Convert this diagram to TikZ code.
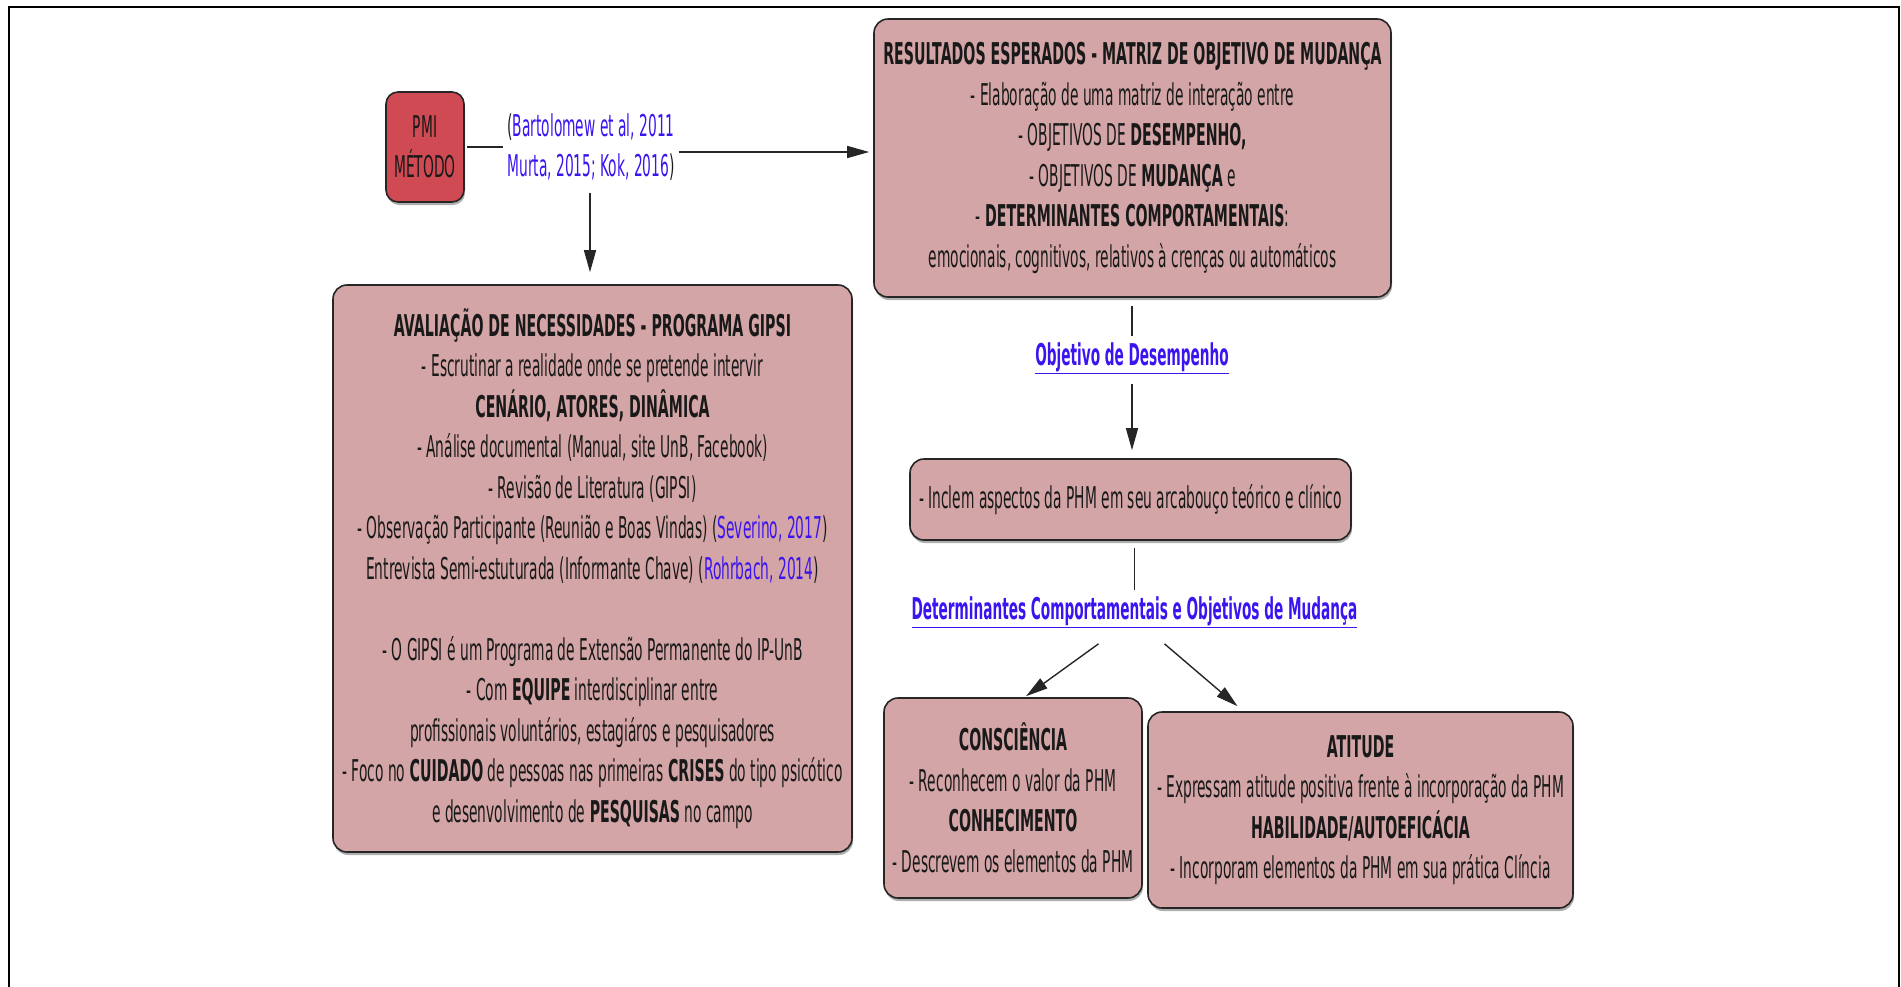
\documentclass[tikz,border=0pt]{standalone}
\usepackage{fontspec}
\setmainfont{DejaVu Sans}[FakeStretch=0.46, BoldFeatures={FakeStretch=0.472}]
\newfontfamily\linkfont{DejaVu Sans}[FakeStretch=0.455, BoldFeatures={FakeStretch=0.455}]
\usetikzlibrary{arrows.meta,shadows}
\definecolor{pinkfill}{RGB}{212,165,166}
\definecolor{pmired}{RGB}{207,74,82}
\definecolor{cblue}{RGB}{60,20,240}
\definecolor{txt}{RGB}{25,25,25}
\tikzset{
  every node/.style={font=\fontsize{30pt}{40.5pt}\selectfont, text=txt, inner sep=0pt},
  box/.style={draw=black!85, line width=1.6pt, fill=pinkfill, rounded corners=14pt, align=center,
    drop shadow={shadow xshift=1pt, shadow yshift=-3pt, opacity=0.45, fill=black!70}},
  link/.style={text=cblue, font=\fontsize{30pt}{40.5pt}\selectfont\linkfont\bfseries},
  conn/.style={line width=1.4pt, draw=black!85},
  arr/.style={conn, -{Triangle[length=22pt,width=12pt]}}
}
\begin{document}
\begin{tikzpicture}[x=1pt,y=-1pt]
\useasboundingbox (0,0) rectangle (1901,986);
\draw[line width=2pt] (9,990) -- (9,7) -- (1899,7) -- (1899,990);

\node[box, fill=pmired, rounded corners=12pt, minimum width=78pt, minimum height=110pt] (pmi) at (425,147) {PMI\\MÉTODO};
\node[align=center] (cite) at (591,147) {(\textcolor{cblue}{Bartolomew et al, 2011}\\\textcolor{cblue}{Murta, 2015; Kok, 2016})};

\node[box, minimum width=517pt, minimum height=278pt] (res) at (1132.5,158) {\textbf{RESULTADOS ESPERADOS - MATRIZ DE OBJETIVO DE MUDANÇA}\\
- Elaboração de uma matriz de interação entre\\
- OBJETIVOS DE \textbf{DESEMPENHO,}\\
- OBJETIVOS DE \textbf{MUDANÇA} e\\
- \textbf{DETERMINANTES COMPORTAMENTAIS}:\\
emocionais, cognitivos, relativos à crenças ou automáticos};

\node[box, minimum width=519pt, minimum height=567pt] (avl) at (592.5,568.5) {\textbf{AVALIAÇÃO DE NECESSIDADES - PROGRAMA GIPSI}\\
- Escrutinar a realidade onde se pretende intervir\\
\textbf{CENÁRIO, ATORES, DINÂMICA}\\
- Análise documental (Manual, site UnB, Facebook)\\
- Revisão de Literatura (GIPSI)\\
- Observação Participante (Reunião e Boas Vindas) (\textcolor{cblue}{Severino, 2017})\\
Entrevista Semi-estuturada (Informante Chave) (\textcolor{cblue}{Rohrbach, 2014})\\[40.5pt]
- O GIPSI é um Programa de Extensão Permanente do IP-UnB\\
- Com \textbf{EQUIPE} interdisciplinar entre\\
profissionais voluntários, estagiáros e pesquisadores\\
- Foco no \textbf{CUIDADO} de pessoas nas primeiras \textbf{CRISES} do tipo psicótico\\
e desenvolvimento de \textbf{PESQUISAS} no campo};

\node[link] (od) at (1132,358) {\underline{Objetivo de Desempenho}};

\node[box, minimum width=441pt, minimum height=81pt] (inc) at (1130.5,499.5) {- Inclem aspectos da PHM em seu arcabouço teórico e clínico};

\node[link] (det) at (1134.5,612) {\underline{Determinantes Comportamentais e Objetivos de Mudança}};

\node[box, minimum width=258pt, minimum height=200pt] (con) at (1013,798) {\textbf{CONSCIÊNCIA}\\
- Reconhecem o valor da PHM\\
\textbf{CONHECIMENTO}\\
- Descrevem os elementos da PHM};

\node[box, minimum width=425pt, minimum height=196pt] (att) at (1360.5,810) {\textbf{ATITUDE}\\
- Expressam atitude positiva frente à incorporação da PHM\\
\textbf{HABILIDADE/AUTOEFICÁCIA}\\
- Incorporam elementos da PHM em sua prática Clíncia};

% connectors
\draw[conn, shorten <=2pt, shorten >=4pt] (pmi.east) -- (pmi.east -| cite.west);
\draw[arr, shorten <=4pt, shorten >=4pt] ([yshift=-5pt]cite.east) -- ([yshift=-5pt]cite.east -| res.west);
\draw[arr, shorten <=12pt, shorten >=12pt] (cite.south -| 590,0) -- (avl.north -| 590,0);
\draw[conn, shorten <=8pt, shorten >=6pt] (res.south -| od.north) -- (od.north);
\draw[arr, shorten <=10pt, shorten >=8pt] (od.south) -- (od.south |- inc.north);
\draw[conn, shorten <=7pt, shorten >=6pt] (inc.south -| det.north) -- (det.north);
\draw[arr] ([xshift=-36pt,yshift=-16pt]det.south) -- ([xshift=13pt,yshift=1pt]con.north);
\draw[arr] ([xshift=30pt,yshift=-16pt]det.south) -- ([xshift=-123pt,yshift=5pt]att.north);
\end{tikzpicture}
\end{document}
